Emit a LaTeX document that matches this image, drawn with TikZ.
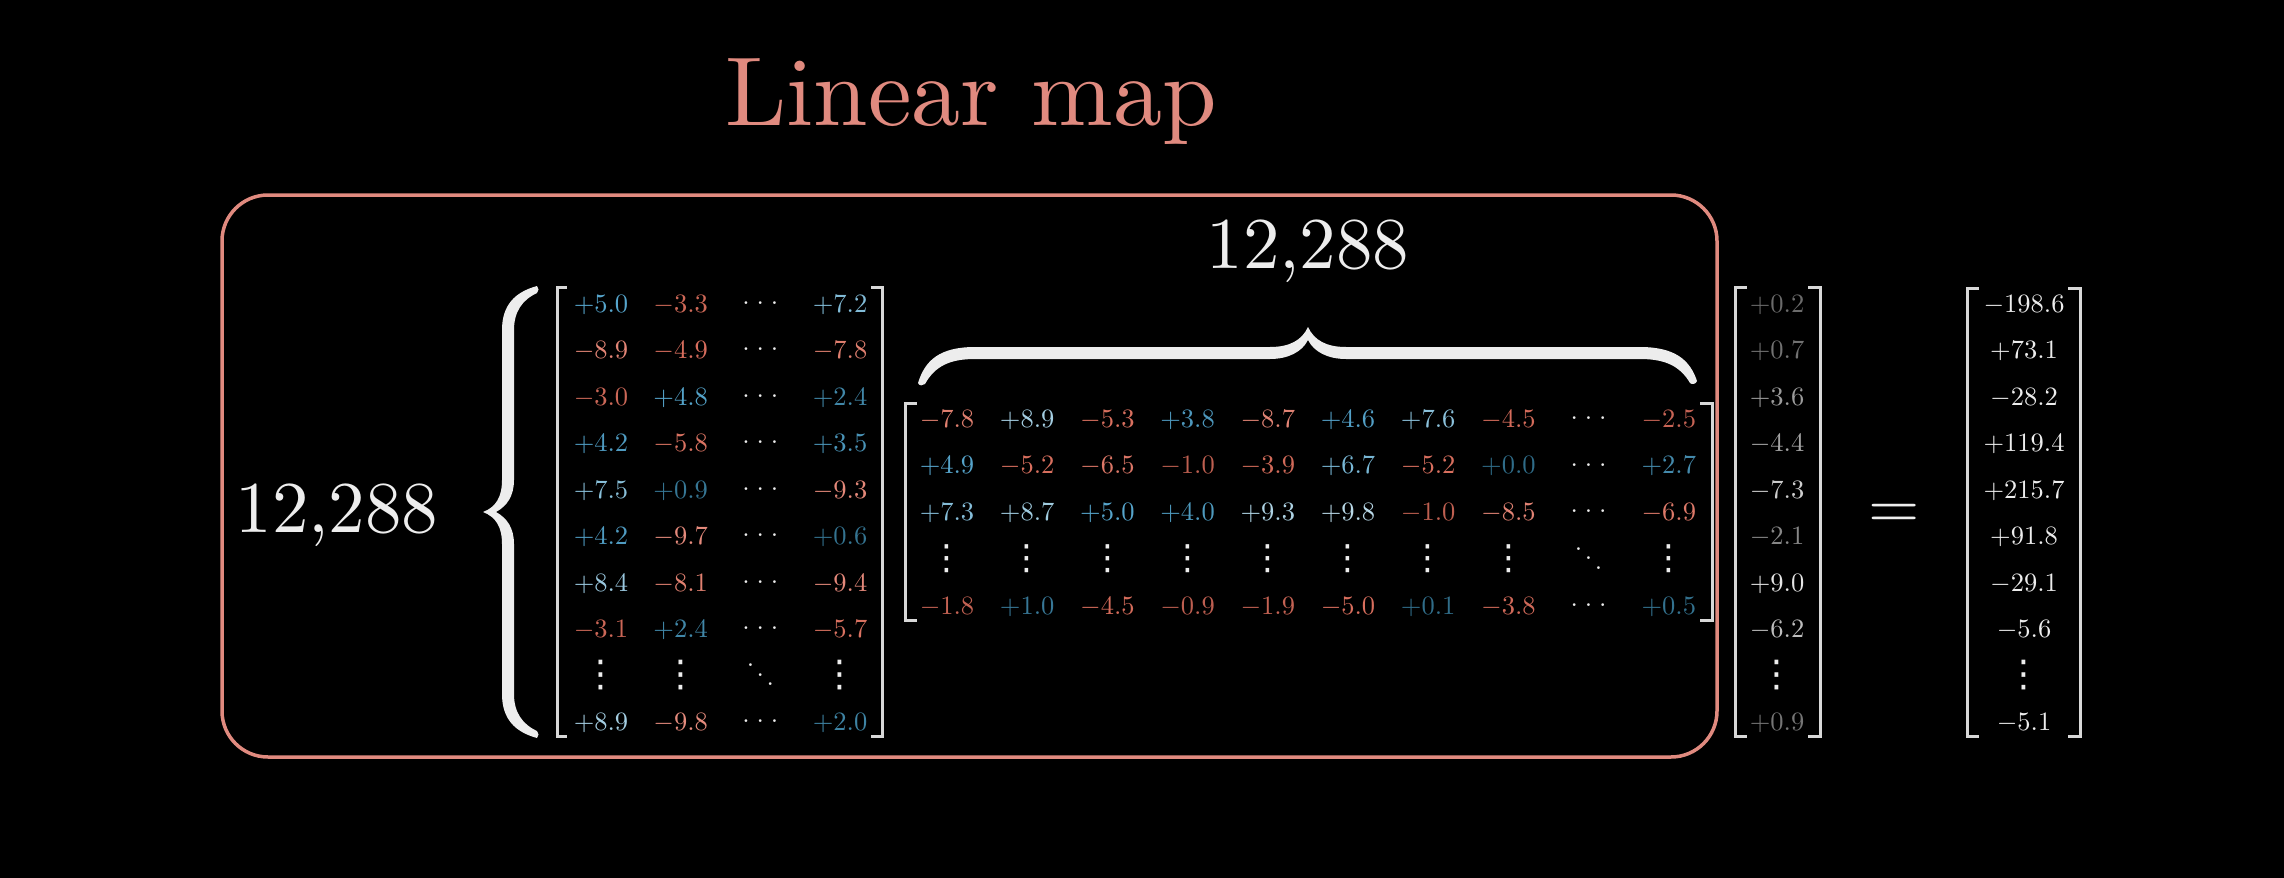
\documentclass[tikz,border=0pt]{standalone}
\usepackage[no-math]{fontspec}
\newfontfamily\dvs{DejaVu Sans}
\definecolor{blo}{HTML}{2F6C88}
\definecolor{bmid}{HTML}{56A5CC}
\definecolor{bhi}{HTML}{BCDAE8}
\definecolor{rlo}{HTML}{B85B4D}
\definecolor{rmid}{HTML}{D86E5D}
\definecolor{rhi}{HTML}{E68C7E}
\definecolor{glo}{HTML}{6A6A6A}
\definecolor{ghi}{HTML}{F2F2F2}
\definecolor{salmon}{HTML}{E08A7F}
\definecolor{wht}{HTML}{EDEDED}
\definecolor{brkc}{HTML}{D8D8D8}
\newcommand\Pn[1]{\pgfmathtruncatemacro\qq{(#1<5)?(20*#1):(20*(#1-5))}\ifdim#1pt<5pt\color{bmid!\qq!blo}\else\color{bhi!\qq!bmid}\fi$+#1$}
\newcommand\Nn[1]{\pgfmathtruncatemacro\qq{(#1<5)?(20*#1):(20*(#1-5))}\ifdim#1pt<5pt\color{rmid!\qq!rlo}\else\color{rhi!\qq!rmid}\fi$-#1$}
\newcommand\Gp[1]{\pgfmathtruncatemacro\qq{10*#1}\color{ghi!\qq!glo}$+#1$}
\newcommand\Gn[1]{\pgfmathtruncatemacro\qq{10*#1}\color{ghi!\qq!glo}$-#1$}
\newcommand\hd{\color{wht}\raisebox{2.87pt}{.\kern2.6pt.\kern2.6pt.}}
\newcommand\vd{\color{wht}\raisebox{0.9pt}{$\vcenter{\hbox{\dvs\fontsize{13.9}{15}\selectfont ⋮}}$}}
\newcommand\vdm{\color{wht}\raisebox{0.9pt}{$\vcenter{\hbox{\dvs\fontsize{13.1}{15}\selectfont ⋮}}$}}
\newcommand\dd{\color{wht}\raisebox{-0.72pt}{\raisebox{7.17pt}{.}\kern0.98pt\raisebox{3.58pt}{.}\kern0.98pt.}}
\begin{document}
\begin{tikzpicture}[x=1pt,y=-1pt,
  every node/.style={inner sep=0pt,outer sep=0pt},
  ent/.style={anchor=base,scale=2.65,font=\fontsize{10}{12}\selectfont},
  big/.style={anchor=base,text=wht,scale=7.3,font=\fontsize{10}{12}\selectfont},
  brk/.style={draw=brkc,line width=3pt},
  bracefill/.style={fill=wht,draw=none}]
\fill[black] (0,0) rectangle (2284,878);
\useasboundingbox (0,0) rectangle (2284,878);

% title and box
\node[anchor=base,text=salmon,scale=9.8,font=\fontsize{10}{12}\selectfont] (title) at (971,125) {Linear map};
\draw[draw=salmon,line width=3.5pt,rounded corners=46pt] (222,195) rectangle (1717,757);

% labels
\node[big] (rows) at (337,532) {12,288};
\node[big] (cols) at (1308,268) {12,288};

% left brace
\fill[bracefill] (537,286) .. controls (515,292) and (502,305) .. (502,330)
  -- (502,480) .. controls (502,497) and (496,507) .. (483,512)
  .. controls (496,517) and (502,527) .. (502,544)
  -- (502,694) .. controls (502,719) and (515,732) .. (537,738)
  .. controls (539,736) and (539,733) .. (537,731)
  .. controls (522,724) and (514,712) .. (514,694)
  -- (514,544) .. controls (514,528) and (507,518) .. (496,512)
  .. controls (507,506) and (514,496) .. (514,480)
  -- (514,330) .. controls (514,312) and (522,300) .. (537,293)
  .. controls (539,291) and (539,288) .. (537,286) -- cycle;

% top brace
\fill[bracefill] (918,383) .. controls (925,360) and (940,347) .. (975,347)
  -- (1270,347) .. controls (1290,347) and (1302,340) .. (1308,327)
  .. controls (1314,340) and (1326,347) .. (1346,347)
  -- (1640,347) .. controls (1675,347) and (1690,360) .. (1697,381)
  .. controls (1696,384) and (1692,385) .. (1690,383)
  .. controls (1680,366) and (1665,359) .. (1640,359)
  -- (1346,359) .. controls (1328,359) and (1314,352) .. (1308,340)
  .. controls (1302,352) and (1288,359) .. (1270,359)
  -- (975,359) .. controls (950,359) and (935,366) .. (925,384)
  .. controls (923,386) and (919,386) .. (918,383) -- cycle;

% left matrix
\foreach \row [count=\i] in {
  {\Pn{5.0},\Nn{3.3},\hd,\Pn{7.2}},
  {\Nn{8.9},\Nn{4.9},\hd,\Nn{7.8}},
  {\Nn{3.0},\Pn{4.8},\hd,\Pn{2.4}},
  {\Pn{4.2},\Nn{5.8},\hd,\Pn{3.5}},
  {\Pn{7.5},\Pn{0.9},\hd,\Nn{9.3}},
  {\Pn{4.2},\Nn{9.7},\hd,\Pn{0.6}},
  {\Pn{8.4},\Nn{8.1},\hd,\Nn{9.4}},
  {\Nn{3.1},\Pn{2.4},\hd,\Nn{5.7}},
  {\vd,\vd,\dd,\vd},
  {\Pn{8.9},\Nn{9.8},\hd,\Pn{2.0}}} {
  \foreach \t [count=\j] in \row {
    \pgfmathsetmacro\xx{601+79.7*(\j-1)}
    \pgfmathsetmacro\yy{312+46.5*(\i-1)}
    \node[ent] (L-\i-\j) at (\xx,\yy) {\t};
  }
}
\draw[brk] (567,287) -- (557,287) -- (557,736) -- (567,736);
\draw[brk] (871,287) -- (882,287) -- (882,736) -- (871,736);

% middle matrix
\foreach \row [count=\i] in {
  {\Nn{7.8},\Pn{8.9},\Nn{5.3},\Pn{3.8},\Nn{8.7},\Pn{4.6},\Pn{7.6},\Nn{4.5},\hd,\Nn{2.5}},
  {\Pn{4.9},\Nn{5.2},\Nn{6.5},\Nn{1.0},\Nn{3.9},\Pn{6.7},\Nn{5.2},\Pn{0.0},\hd,\Pn{2.7}},
  {\Pn{7.3},\Pn{8.7},\Pn{5.0},\Pn{4.0},\Pn{9.3},\Pn{9.8},\Nn{1.0},\Nn{8.5},\hd,\Nn{6.9}},
  {\vdm,\vdm,\vdm,\vdm,\vdm,\vdm,\vdm,\vdm,\dd,\vdm},
  {\Nn{1.8},\Pn{1.0},\Nn{4.5},\Nn{0.9},\Nn{1.9},\Nn{5.0},\Pn{0.1},\Nn{3.8},\hd,\Pn{0.5}}} {
  \foreach \t [count=\j] in \row {
    \pgfmathsetmacro\xx{947+80.2*(\j-1)}
    \pgfmathsetmacro\yy{427+46.75*(\i-1)}
    \node[ent] (M-\i-\j) at (\xx,\yy) {\t};
  }
}
\draw[brk] (917,403) -- (905,403) -- (905,620) -- (917,620);
\draw[brk] (1700,403) -- (1712,403) -- (1712,620) -- (1700,620);

% input vector
\foreach \t [count=\i] in {\Gp{0.2},\Gp{0.7},\Gp{3.6},\Gn{4.4},\Gn{7.3},\Gn{2.1},\Gp{9.0},\Gn{6.2},\vd,\Gp{0.9}} {
  \pgfmathsetmacro\yy{312+46.5*(\i-1)}
  \node[ent] (X-\i) at (1777,\yy) {\t};
}
\draw[brk] (1747,287) -- (1735,287) -- (1735,736) -- (1747,736);
\draw[brk] (1808,287) -- (1820,287) -- (1820,736) -- (1808,736);

% equals
\node[anchor=base,text=wht,scale=6.6,font=\fontsize{10}{12}\selectfont] (eq) at (1894,528) {$=$};

% output vector
\foreach \t [count=\i] in {$-198.6$,$+73.1$,$-28.2$,$+119.4$,$+215.7$,$+91.8$,$-29.1$,$-5.6$,\vd,$-5.1$} {
  \pgfmathsetmacro\yy{312+46.5*(\i-1)}
  \node[ent,text=wht] (Y-\i) at (2024,\yy) {\t};
}
\draw[brk] (1979,288) -- (1967,288) -- (1967,736) -- (1979,736);
\draw[brk] (2068,288) -- (2080,288) -- (2080,736) -- (2068,736);
\end{tikzpicture}
\end{document}
